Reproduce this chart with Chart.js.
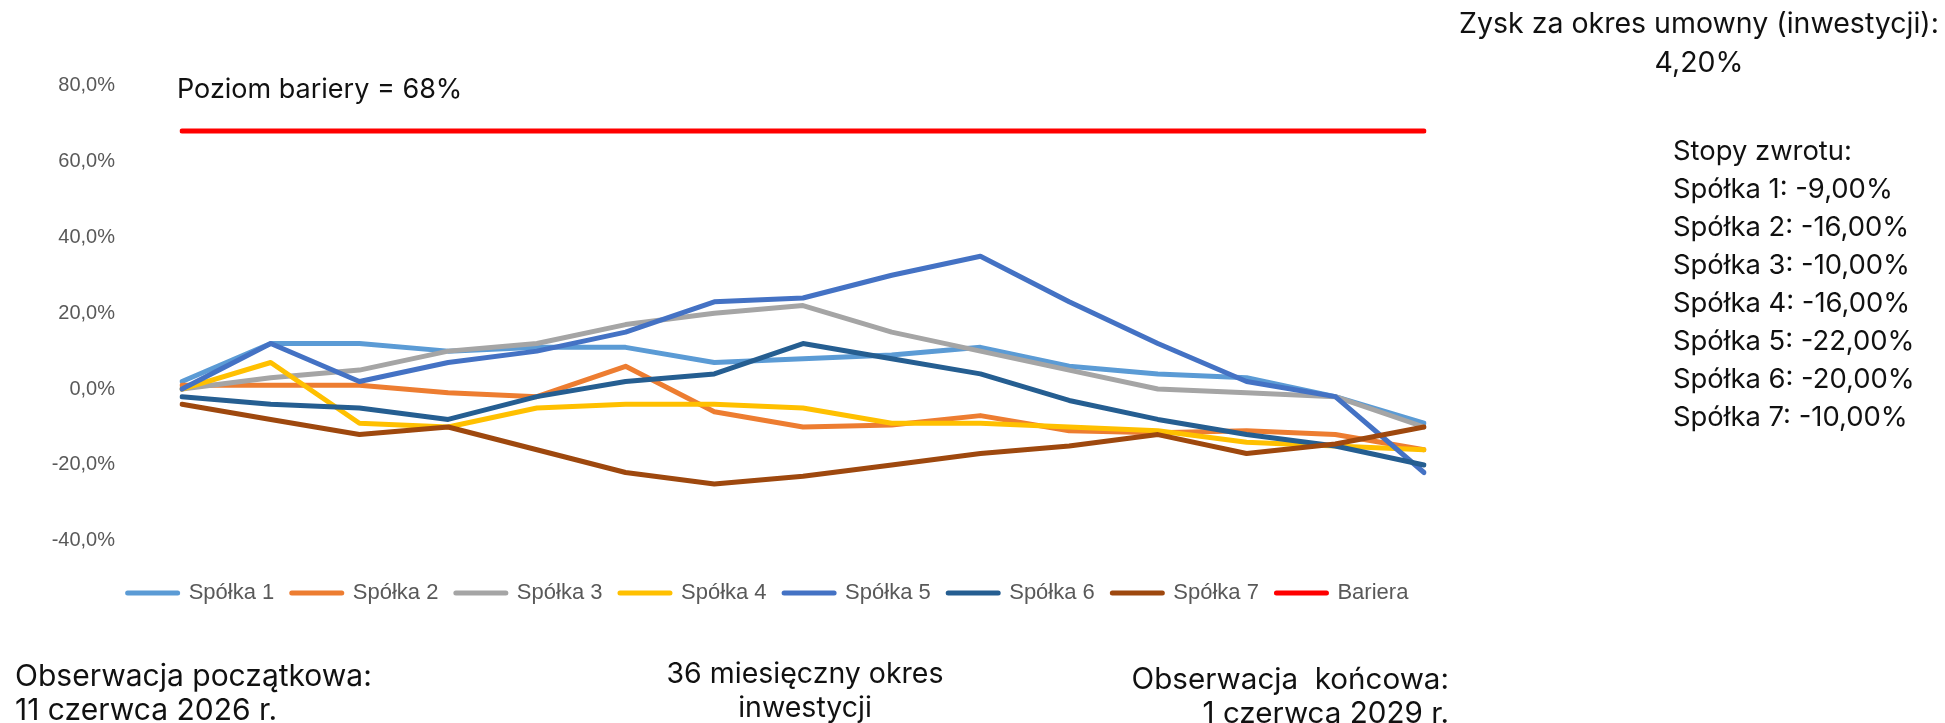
<!DOCTYPE html>
<html lang="pl">
<head>
<meta charset="utf-8">
<title>Spółki – poziom bariery</title>
<script src="https://cdn.jsdelivr.net/npm/chart.js@4.4.1/dist/chart.umd.min.js"></script>
<style>
  html, body { margin: 0; padding: 0; background: #fff; }
  body { width: 1945px; height: 723px; position: relative; overflow: hidden; font-family: Inter, 'Noto Sans', sans-serif; color: #111; }
  #chartBox { position: absolute; left: 0; top: 0; width: 1945px; height: 723px; }
  .txt { position: absolute; white-space: nowrap; }
  #bariera { left: 177px; top: 74px; font-size: 27px; line-height: 30px; }
  #zysk { left: 1449px; width: 500px; top: 3px; text-align: center; font-size: 28.5px; line-height: 39px; }
  #stopy { left: 1673px; top: 131px; font-size: 27.4px; line-height: 38px; }
  #obsStart { left: 15px; top: 657.5px; font-size: 30px; line-height: 34px; }
  #okres { left: 605px; width: 400px; top: 655.5px; text-align: center; font-size: 28.5px; line-height: 34px; }
  #obsEnd { right: 496px; top: 660.5px; text-align: right; font-size: 29.6px; line-height: 34px; }
</style>
</head>
<body>
<div id="chartBox"><canvas id="chart" width="1945" height="723"></canvas></div>

<div class="txt" id="bariera">Poziom bariery = 68%</div>
<div class="txt" id="zysk">Zysk za okres umowny (inwestycji):<br>4,20%</div>
<div class="txt" id="stopy">Stopy zwrotu:<br>Spółka 1: -9,00%<br>Spółka 2: -16,00%<br>Spółka 3: -10,00%<br>Spółka 4: -16,00%<br>Spółka 5: -22,00%<br>Spółka 6: -20,00%<br>Spółka 7: -10,00%</div>
<div class="txt" id="obsStart">Obserwacja początkowa:<br>11 czerwca 2026 r.</div>
<div class="txt" id="okres">36 miesięczny okres<br>inwestycji</div>
<div class="txt" id="obsEnd">Obserwacja&nbsp; końcowa:<br>1 czerwca 2029 r.</div>

<script>
// observation points (15, no axis labels shown)
const punkty = ['1', '2', '3', '4', '5', '6', '7', '8', '9', '10', '11', '12', '13', '14', '15'];

// performance of each company in %
const spolka1 = [2, 12, 12, 10, 11, 11, 7, 8, 9, 11, 6, 4, 3, -2, -9];
const spolka2 = [1, 1, 1, -1, -2, 6, -6, -10, -9.5, -7, -11, -11.5, -11, -12, -16];
const spolka3 = [0, 3, 5, 10, 12, 17, 20, 22, 15, 10, 5, 0, -1, -2, -10];
const spolka4 = [0, 7, -9, -10, -5, -4, -4, -5, -9, -9, -10, -11, -14, -15, -16];
const spolka5 = [0, 12, 2, 7, 10, 15, 23, 24, 30, 35, 23, 12, 2, -2, -22];
const spolka6 = [-2, -4, -5, -8, -2, 2, 4, 12, 8, 4, -3, -8, -12, -15, -20];
const spolka7 = [-4, -8, -12, -10, -16, -22, -25, -23, -20, -17, -15, -12, -17, -14.5, -10];
const bariera = [68, 68, 68, 68, 68, 68, 68, 68, 68, 68, 68, 68, 68, 68, 68];

const nazwy = ['Spółka 1', 'Spółka 2', 'Spółka 3', 'Spółka 4', 'Spółka 5', 'Spółka 6', 'Spółka 7', 'Bariera'];
const kolory = ['#5B9BD5', '#ED7D31', '#A5A5A5', '#FFC000', '#4472C4', '#255E91', '#9E480E', '#FF0000'];
const serie = [spolka1, spolka2, spolka3, spolka4, spolka5, spolka6, spolka7, bariera];

// y axis
const yMin = -40;
const yMax = 80;
const yStep = 20;

document.addEventListener('DOMContentLoaded', () => {
    const ctx = document.getElementById('chart').getContext('2d');
    Chart.defaults.font.family = "'Liberation Sans', Arial, sans-serif";
    Chart.defaults.color = '#595959';

    const datasets = serie.map((data, i) => ({
        label: nazwy[i],
        data: data,
        borderColor: kolory[i],
        backgroundColor: kolory[i],
        borderWidth: 5,
        borderCapStyle: 'round',
        borderJoinStyle: 'round',
        pointRadius: 0,
        pointHoverRadius: 0,
        tension: 0,
        fill: false,
        order: serie.length - i   // later series on top, like Excel
    }));

    new Chart(ctx, {
        type: 'line',
        data: { labels: punkty, datasets: datasets },
        options: {
            responsive: false,
            devicePixelRatio: 1,
            animation: false,
            layout: { padding: { left: 0, right: 409, top: 85.6, bottom: 109 } },
            plugins: {
                tooltip: { enabled: false },
                legend: {
                    position: 'bottom',
                    labels: {
                        usePointStyle: true,
                        pointStyleWidth: 50,
                        padding: 17.5,
                        color: '#595959',
                        font: { size: 22 },
                        sort: (a, b) => a.datasetIndex - b.datasetIndex,
                        generateLabels: chart => Chart.defaults.plugins.legend.labels.generateLabels(chart).map(l => ({
                            ...l,
                            pointStyle: 'line',
                            lineWidth: 5,
                            lineCap: 'round',
                            strokeStyle: kolory[l.datasetIndex],
                            fillStyle: kolory[l.datasetIndex]
                        }))
                    }
                }
            },
            scales: {
                x: {
                    type: 'category',
                    offset: false,
                    grid: { display: false },
                    border: { display: false },
                    ticks: { display: false },
                    afterFit: s => { s.height = 23.7; }
                },
                y: {
                    min: yMin,
                    max: yMax,
                    grid: { display: false },
                    border: { display: false },
                    ticks: {
                        stepSize: yStep,
                        padding: 59,
                        color: '#595959',
                        font: { size: 20 },
                        callback: v => v.toFixed(1).replace('.', ',') + '%'
                    },
                    afterFit: s => { s.width = 182; }
                },
                // empty spacer on the right so the legend sits where it does in the original
                spacer: {
                    type: 'linear',
                    position: 'right',
                    grid: { display: false },
                    border: { display: false },
                    ticks: { display: false },
                    afterFit: s => { s.width = 112; }
                }
            }
        }
    });
});
</script>
</body>
</html>
